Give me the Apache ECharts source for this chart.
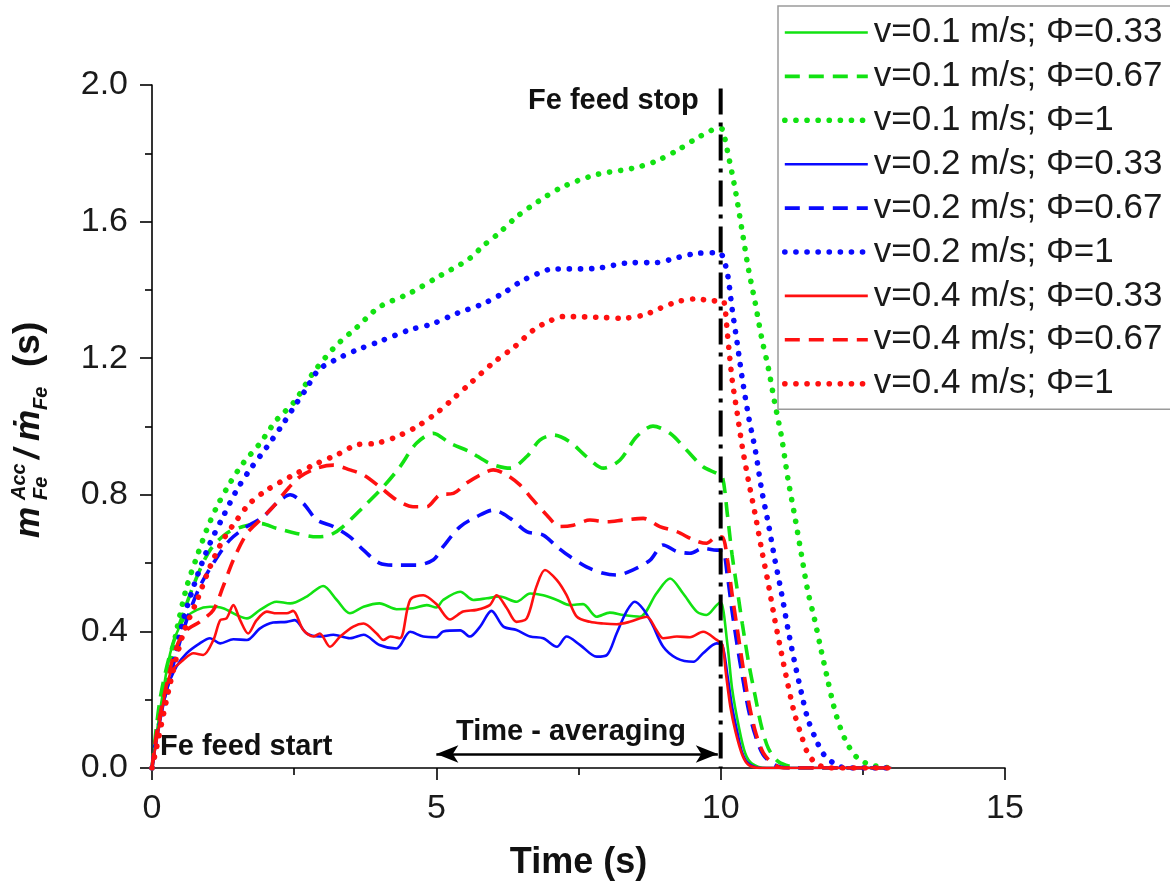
<!DOCTYPE html>
<html>
<head>
<meta charset="utf-8">
<script src="https://cdn.jsdelivr.net/npm/echarts@6/dist/echarts.min.js"></script>
<style>
html, body { margin: 0; padding: 0; background: #fff; }
#chart { width: 1170px; height: 887px; }
</style>
</head>
<body>
<div id="chart"></div>
<script>
// Accumulated Fe mass / Fe feed rate (s) versus time (s)
const FONT = "'Liberation Sans', Arial, Helvetica, sans-serif";

const xTicks = [0, 5, 10, 15];
const yTicks = [0.0, 0.4, 0.8, 1.2, 1.6, 2.0];

const seriesNames = [
  'v=0.1 m/s; \u03A6=0.33', 'v=0.1 m/s; \u03A6=0.67', 'v=0.1 m/s; \u03A6=1',
  'v=0.2 m/s; \u03A6=0.33', 'v=0.2 m/s; \u03A6=0.67', 'v=0.2 m/s; \u03A6=1',
  'v=0.4 m/s; \u03A6=0.33', 'v=0.4 m/s; \u03A6=0.67', 'v=0.4 m/s; \u03A6=1'
];

// v = 0.1 m/s
const v01_phi033 = [[0,0],[0.08,0.1],[0.32,0.336],[0.55,0.433],[0.79,0.463],[1.02,0.472],[1.25,0.468],[1.49,0.448],[1.67,0.438],[1.9,0.463],[2.19,0.487],[2.43,0.482],[2.72,0.502],[3.01,0.533],[3.25,0.492],[3.48,0.453],[3.72,0.472],[4.0,0.482],[4.3,0.465],[4.59,0.468],[4.83,0.477],[5.0,0.47],[5.12,0.492],[5.42,0.516],[5.65,0.492],[5.89,0.497],[6.12,0.502],[6.41,0.487],[6.65,0.511],[6.88,0.506],[7.12,0.492],[7.35,0.477],[7.58,0.48],[7.82,0.443],[8.05,0.455],[8.29,0.448],[8.58,0.443],[8.87,0.511],[9.11,0.555],[9.34,0.511],[9.58,0.458],[9.75,0.448],[9.93,0.477],[10.0,0.486],[10.12,0.36],[10.2,0.234],[10.32,0.12],[10.43,0.044],[10.55,0.013],[10.8,0],[13,0]];
const v01_phi067 = [[0,0],[0.14,0.2],[0.32,0.336],[0.55,0.453],[0.79,0.56],[1.02,0.638],[1.31,0.687],[1.6,0.707],[1.9,0.716],[2.19,0.702],[2.54,0.687],[2.9,0.677],[3.13,0.682],[3.36,0.707],[3.72,0.765],[4.07,0.824],[4.36,0.882],[4.65,0.951],[4.95,0.98],[5.24,0.951],[5.59,0.926],[5.94,0.892],[6.3,0.878],[6.59,0.912],[6.82,0.96],[7.06,0.975],[7.35,0.955],[7.64,0.912],[7.94,0.878],[8.23,0.902],[8.52,0.97],[8.81,1.001],[9.11,0.98],[9.4,0.931],[9.69,0.882],[9.93,0.863],[10.03,0.853],[10.12,0.74],[10.2,0.625],[10.29,0.524],[10.38,0.423],[10.49,0.31],[10.61,0.208],[10.72,0.12],[10.84,0.057],[11.01,0.019],[11.24,0.004],[11.5,0],[13,0]];
const v01_phi1 = [[0,0],[0.08,0.08],[0.26,0.245],[0.43,0.4],[0.61,0.53],[0.79,0.619],[0.96,0.697],[1.14,0.765],[1.37,0.834],[1.6,0.892],[1.9,0.951],[2.19,1.019],[2.5,1.072],[2.83,1.156],[3.22,1.234],[3.6,1.29],[4.0,1.35],[4.53,1.39],[5.05,1.44],[5.57,1.49],[5.83,1.53],[6.1,1.566],[6.42,1.615],[6.8,1.66],[7.2,1.70],[7.8,1.737],[8.45,1.756],[8.85,1.776],[9.25,1.81],[9.64,1.85],[9.97,1.873],[10.03,1.87],[10.14,1.79],[10.26,1.69],[10.38,1.57],[10.49,1.46],[10.61,1.36],[10.72,1.26],[10.84,1.17],[10.95,1.07],[11.07,0.97],[11.18,0.85],[11.3,0.74],[11.42,0.625],[11.53,0.52],[11.65,0.436],[11.76,0.35],[11.88,0.26],[11.99,0.18],[12.1,0.12],[12.23,0.07],[12.4,0.03],[12.57,0.013],[12.75,0.005],[13,0]];

// v = 0.2 m/s
const v02_phi033 = [[0,0],[0.08,0.08],[0.26,0.228],[0.43,0.297],[0.61,0.336],[0.84,0.365],[1.02,0.38],[1.2,0.365],[1.43,0.377],[1.67,0.375],[1.9,0.409],[2.13,0.426],[2.37,0.428],[2.51,0.433],[2.72,0.394],[2.95,0.385],[3.19,0.39],[3.48,0.38],[3.72,0.39],[4.0,0.36],[4.3,0.35],[4.54,0.399],[4.77,0.385],[5.0,0.383],[5.12,0.4],[5.42,0.403],[5.59,0.385],[5.77,0.414],[5.97,0.46],[6.18,0.414],[6.41,0.404],[6.65,0.385],[6.88,0.38],[7.12,0.355],[7.29,0.385],[7.53,0.36],[7.82,0.326],[8.0,0.331],[8.17,0.394],[8.35,0.46],[8.49,0.487],[8.64,0.465],[8.8,0.42],[8.99,0.355],[9.23,0.321],[9.52,0.311],[9.69,0.336],[9.93,0.365],[10.03,0.36],[10.12,0.27],[10.2,0.18],[10.29,0.107],[10.38,0.044],[10.49,0.013],[10.7,0],[13,0]];
const v02_phi067 = [[0,0],[0.14,0.15],[0.38,0.306],[0.61,0.433],[0.84,0.531],[1.08,0.6],[1.37,0.668],[1.67,0.707],[1.96,0.736],[2.19,0.775],[2.43,0.8],[2.66,0.775],[2.9,0.726],[3.19,0.707],[3.48,0.677],[3.72,0.638],[4.0,0.6],[4.3,0.594],[4.65,0.594],[4.95,0.61],[5.12,0.648],[5.42,0.707],[5.71,0.736],[6.0,0.755],[6.3,0.731],[6.59,0.692],[6.88,0.682],[7.12,0.648],[7.35,0.619],[7.64,0.589],[7.94,0.57],[8.17,0.565],[8.46,0.58],[8.76,0.609],[8.99,0.653],[9.23,0.634],[9.46,0.629],[9.69,0.643],[9.93,0.638],[10.03,0.638],[10.12,0.56],[10.2,0.46],[10.29,0.36],[10.38,0.27],[10.49,0.17],[10.61,0.095],[10.75,0.038],[10.95,0.009],[11.2,0],[13,0]];
const v02_phi1 = [[0,0],[0.11,0.1],[0.32,0.258],[0.55,0.433],[0.79,0.56],[1.02,0.658],[1.25,0.736],[1.49,0.814],[1.72,0.873],[2.02,0.94],[2.31,1.009],[2.54,1.068],[2.7,1.107],[2.93,1.166],[3.22,1.195],[3.6,1.224],[4.0,1.249],[4.53,1.283],[4.92,1.30],[5.37,1.332],[5.83,1.36],[6.22,1.395],[6.48,1.424],[6.8,1.449],[7.0,1.46],[7.8,1.463],[8.45,1.48],[8.85,1.48],[9.25,1.495],[9.58,1.507],[9.97,1.509],[10.03,1.50],[10.12,1.447],[10.2,1.346],[10.29,1.245],[10.38,1.14],[10.49,1.03],[10.61,0.93],[10.72,0.815],[10.84,0.714],[10.95,0.613],[11.07,0.512],[11.18,0.41],[11.3,0.31],[11.42,0.22],[11.53,0.145],[11.68,0.082],[11.82,0.038],[12.0,0.013],[12.2,0],[13,0]];

// v = 0.4 m/s
const v04_phi033 = [[0,0],[0.08,0.08],[0.32,0.277],[0.55,0.316],[0.73,0.336],[0.9,0.331],[1.08,0.375],[1.2,0.433],[1.31,0.438],[1.43,0.477],[1.55,0.433],[1.69,0.394],[1.84,0.433],[2.02,0.458],[2.19,0.453],[2.37,0.453],[2.48,0.46],[2.66,0.404],[2.84,0.385],[2.95,0.394],[3.13,0.355],[3.31,0.385],[3.54,0.414],[3.72,0.423],[3.95,0.394],[4.07,0.375],[4.19,0.385],[4.36,0.38],[4.54,0.492],[4.77,0.506],[5.0,0.48],[5.24,0.435],[5.47,0.458],[5.71,0.463],[5.94,0.477],[6.06,0.506],[6.24,0.468],[6.41,0.428],[6.59,0.438],[6.76,0.531],[6.91,0.58],[7.12,0.55],[7.29,0.506],[7.47,0.443],[7.7,0.428],[7.94,0.423],[8.17,0.421],[8.4,0.428],[8.7,0.443],[8.87,0.404],[8.99,0.38],[9.23,0.385],[9.46,0.383],[9.69,0.399],[9.93,0.375],[10.03,0.36],[10.09,0.28],[10.17,0.18],[10.26,0.107],[10.38,0.038],[10.49,0.009],[10.7,0],[13,0]];
const v04_phi067 = [[0,0],[0.08,0.1],[0.26,0.248],[0.43,0.355],[0.61,0.404],[0.84,0.428],[1.08,0.463],[1.25,0.531],[1.43,0.609],[1.67,0.687],[1.9,0.726],[2.13,0.765],[2.37,0.814],[2.6,0.853],[2.9,0.878],[3.19,0.887],[3.48,0.873],[3.72,0.858],[4.0,0.824],[4.3,0.785],[4.59,0.765],[4.83,0.765],[5.06,0.8],[5.3,0.804],[5.53,0.834],[5.77,0.858],[6.0,0.873],[6.24,0.858],[6.47,0.829],[6.7,0.785],[6.94,0.741],[7.17,0.707],[7.41,0.711],[7.7,0.726],[8.0,0.721],[8.29,0.726],[8.64,0.731],[8.93,0.707],[9.23,0.692],[9.52,0.668],[9.75,0.658],[9.93,0.677],[10.03,0.676],[10.12,0.61],[10.2,0.51],[10.29,0.41],[10.38,0.31],[10.49,0.196],[10.61,0.107],[10.75,0.044],[10.92,0.013],[11.1,0],[13,0]];
const v04_phi1 = [[0,0],[0.08,0.06],[0.32,0.248],[0.55,0.394],[0.79,0.49],[1.02,0.589],[1.25,0.668],[1.49,0.726],[1.72,0.775],[2.02,0.814],[2.43,0.853],[2.9,0.892],[3.25,0.917],[3.6,0.946],[3.95,0.951],[4.3,0.97],[4.65,0.999],[5.0,1.039],[5.24,1.073],[5.6,1.127],[5.99,1.185],[6.38,1.234],[6.71,1.283],[6.97,1.307],[7.23,1.322],[7.82,1.32],[8.27,1.317],[8.66,1.327],[8.93,1.346],[9.25,1.366],[9.58,1.374],[9.84,1.368],[10.0,1.368],[10.06,1.365],[10.12,1.27],[10.2,1.14],[10.29,1.04],[10.38,0.94],[10.49,0.84],[10.61,0.74],[10.72,0.64],[10.84,0.537],[10.95,0.436],[11.07,0.335],[11.18,0.246],[11.3,0.158],[11.42,0.095],[11.53,0.044],[11.68,0.013],[11.9,0],[13,0]];

// feed stop marker and time-averaging window
const feedStopLine = [[10, 1.99], [10, 0]];
const averagingWindow = [5.0, 9.95];
const averagingLevel = 0.041;

const GREEN = '#12e212', BLUE = '#0a0aff', RED = '#ff1010';
const SOLID = { width: 2.6, type: 'solid', cap: 'butt' };
const DASHED = { width: 3.6, type: [15, 9], cap: 'butt' };
const DOTTED = { width: 5.6, type: [0.1, 11], cap: 'round' };

const seriesData = [v01_phi033, v01_phi067, v01_phi1, v02_phi033, v02_phi067, v02_phi1, v04_phi033, v04_phi067, v04_phi1];
const seriesColors = [GREEN, GREEN, GREEN, BLUE, BLUE, BLUE, RED, RED, RED];
const seriesStyles = [SOLID, DASHED, DOTTED, SOLID, DASHED, DOTTED, SOLID, DASHED, DOTTED];

const series = seriesData.map((d, i) => ({
  name: seriesNames[i],
  type: 'line',
  data: d,
  symbol: 'none',
  smooth: 0.3,
  color: seriesColors[i],
  lineStyle: Object.assign({ color: seriesColors[i] }, seriesStyles[i]),
  z: 2
}));

series.push({
  name: 'feed stop',
  type: 'line',
  data: feedStopLine,
  symbol: 'none',
  silent: true,
  lineStyle: { color: '#000', width: 4, type: [26, 8, 4, 8] },
  z: 3
});

series.push({
  name: 'averaging',
  type: 'line',
  data: [],
  silent: true,
  markLine: {
    silent: true,
    symbol: ['arrow', 'arrow'],
    symbolSize: [13, 22],
    label: { show: false },
    lineStyle: { color: '#000', width: 2.5, type: 'solid' },
    data: [[{ coord: [averagingWindow[0], averagingLevel] }, { coord: [averagingWindow[1], averagingLevel] }]]
  },
  z: 3
});

// legend entries carry their own line samples (no marker dot)
const legendData = seriesNames.map((n, i) => ({
  name: n,
  itemStyle: { opacity: 0, color: 'rgba(0,0,0,0)', borderWidth: 0 },
  lineStyle: Object.assign({ color: seriesColors[i], opacity: 1 }, seriesStyles[i])
}));

const axisCommon = {
  type: 'value',
  axisLine: { show: true, onZero: false, lineStyle: { color: '#000', width: 1.6 } },
  axisTick: { show: true, inside: false, length: 12, lineStyle: { color: '#000', width: 1.6 } },
  minorTick: { show: true, splitNumber: 2, length: 7, lineStyle: { color: '#000', width: 1.6 } },
  splitLine: { show: false },
  minorSplitLine: { show: false }
};

const chart = echarts.init(document.getElementById('chart'), null, { renderer: 'canvas' });

const boldFont = (size, italic) => (italic ? 'italic ' : '') + 'bold ' + size + 'px ' + FONT;
const labelText = (x, y, text, size, italic) => ({
  type: 'text', x: x, y: y,
  style: { text: text, font: boldFont(size, italic), fill: '#111', textVerticalAlign: 'bottom', verticalAlign: 'bottom' }
});

chart.setOption({
  animation: false,
  backgroundColor: '#fff',
  grid: { left: 152, right: 165, top: 85, bottom: 119, containLabel: false, outerBoundsMode: 'none' },
  xAxis: Object.assign({}, axisCommon, {
    min: xTicks[0], max: xTicks[xTicks.length - 1], interval: xTicks[1] - xTicks[0],
    axisLabel: { fontSize: 34, color: '#1a1a1a', fontFamily: FONT, margin: 24 },
    name: 'Time (s)', nameLocation: 'middle', nameGap: 77,
    nameTextStyle: { fontSize: 36, fontWeight: 'bold', color: '#111', fontFamily: FONT }
  }),
  yAxis: Object.assign({}, axisCommon, {
    min: yTicks[0], max: yTicks[yTicks.length - 1], interval: yTicks[1] - yTicks[0],
    axisLabel: { fontSize: 34, color: '#1a1a1a', fontFamily: FONT, margin: 24, formatter: v => v.toFixed(1) }
  }),
  legend: {
    data: legendData,
    orient: 'vertical',
    left: 778, top: 6,
    selectedMode: false,
    itemWidth: 83, itemHeight: 14, itemGap: 8.9,
    padding: [9, 30, 8, 4],
    borderColor: '#9a9a9a', borderWidth: 1.5, backgroundColor: '#fff',
    textStyle: { fontSize: 35, color: '#1a1a1a', fontFamily: FONT, lineHeight: 34, padding: [0, 0, 0, 1] }
  },
  graphic: [
    { type: 'text', x: 528, y: 101, style: { text: 'Fe feed stop', font: boldFont(29, false), fill: '#111', textVerticalAlign: 'middle', verticalAlign: 'middle' } },
    { type: 'text', x: 160, y: 747, style: { text: 'Fe feed start', font: boldFont(29, false), fill: '#111', textVerticalAlign: 'middle', verticalAlign: 'middle' } },
    { type: 'text', x: 571, y: 732, style: { text: 'Time - averaging', font: boldFont(29, false), fill: '#111', textAlign: 'center', align: 'center', textVerticalAlign: 'middle', verticalAlign: 'middle' } },
    {
      type: 'group', x: 45, y: 429, rotation: Math.PI / 2,
      children: [
        labelText(-109, 2, 'm', 35, true),
        labelText(-71, -16, 'Acc', 20, true),
        labelText(-71, 6, 'Fe', 20, true),
        labelText(-30, 2, '/', 35, true),
        labelText(-12, 2, '\u1E41', 35, true),
        labelText(19, 6, 'Fe', 20, true),
        labelText(62, 2, '(s)', 37, false)
      ]
    }
  ],
  series: series
});
</script>
</body>
</html>
